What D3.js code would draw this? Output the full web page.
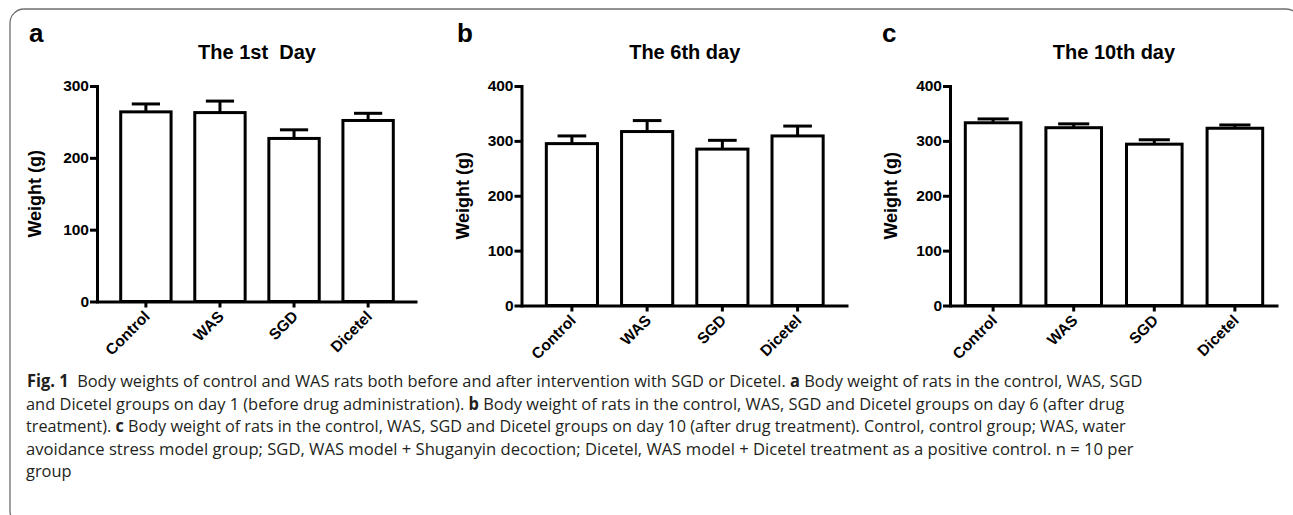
<!DOCTYPE html>
<html>
<head>
<meta charset="utf-8">
<script src="https://cdn.jsdelivr.net/npm/d3@7"></script>
<style>
  html, body { margin: 0; padding: 0; background: #fff; }
  svg { display: block; }
</style>
</head>
<body>
<svg id="chart" width="1293" height="515"></svg>
<script>
// ---- Data ----
const categories = ["Control", "WAS", "SGD", "Dicetel"];
const panelLetters = ["a", "b", "c"];
const panelTitles = ["The 1st  Day", "The 6th day", "The 10th day"];
const yAxisTitle = "Weight (g)";

const day1Means = [264, 263, 227, 252];
const day1Errors = [11, 16, 12, 10];
const day6Means = [295, 317, 285, 309];
const day6Errors = [14, 20, 16, 18];
const day10Means = [333, 324, 294, 323];
const day10Errors = [7, 7, 8, 6];

const day1Ticks = [0, 100, 200, 300];
const day6Ticks = [0, 100, 200, 300, 400];
const day10Ticks = [0, 100, 200, 300, 400];

const captionLines = [
  [["Fig. 1", true], ["  Body weights of control and WAS rats both before and after intervention with SGD or Dicetel. ", false], ["a", true], [" Body weight of rats in the control, WAS, SGD", false]],
  [["and Dicetel groups on day 1 (before drug administration). ", false], ["b", true], [" Body weight of rats in the control, WAS, SGD and Dicetel groups on day 6 (after drug", false]],
  [["treatment). ", false], ["c", true], [" Body weight of rats in the control, WAS, SGD and Dicetel groups on day 10 (after drug treatment). Control, control group; WAS, water", false]],
  [["avoidance stress model group; SGD, WAS model + Shuganyin decoction; Dicetel, WAS model + Dicetel treatment as a positive control. n = 10 per", false]],
  [["group", false]]
];

// ---- Layout ----
const svg = d3.select("#chart");
const FONT = "'Liberation Sans', Arial, sans-serif";

// frame
svg.append("rect")
  .attr("x", 10).attr("y", 9)
  .attr("width", 1290).attr("height", 516)
  .attr("rx", 14).attr("ry", 14)
  .attr("fill", "none").attr("stroke", "#6e6e6e").attr("stroke-width", 1.3);

const panels = [
  { means: day1Means, errs: day1Errors, ticks: day1Ticks, ymax: 300,
    x0: 97, x1: 417, yTop: 86, yBot: 301.5, pin: 0.32, pout: 0.32,
    letterX: 29, ylabX: 35 },
  { means: day6Means, errs: day6Errors, ticks: day6Ticks, ymax: 400,
    x0: 521.5, x1: 848, yTop: 86, yBot: 305.5, pin: 0.32, pout: 0.33,
    letterX: 457, ylabX: 463 },
  { means: day10Means, errs: day10Errors, ticks: day10Ticks, ymax: 400,
    x0: 950, x1: 1278, yTop: 86, yBot: 305.5, pin: 0.31, pout: 0.19,
    letterX: 882, ylabX: 891 }
];

panels.forEach((p, i) => {
  const g = svg.append("g");
  const x = d3.scaleBand().domain(categories).range([p.x0, p.x1])
    .paddingInner(p.pin).paddingOuter(p.pout);
  const y = d3.scaleLinear().domain([0, p.ymax]).range([p.yBot, p.yTop]);

  // panel letter
  g.append("text").attr("x", p.letterX).attr("y", 42)
    .attr("font-family", FONT).attr("font-weight", "bold").attr("font-size", 26)
    .text(panelLetters[i]);

  // title
  g.append("text").attr("x", (p.x0 + p.x1) / 2).attr("y", 59)
    .attr("text-anchor", "middle")
    .attr("font-family", FONT).attr("font-weight", "bold").attr("font-size", 20)
    .attr("xml:space", "preserve")
    .style("white-space", "pre")
    .text(panelTitles[i]);

  // y axis title
  g.append("text")
    .attr("transform", `translate(${p.ylabX},${(p.yTop + p.yBot) / 2}) rotate(-90)`)
    .attr("text-anchor", "middle").attr("dy", "0.35em")
    .attr("font-family", FONT).attr("font-weight", "bold").attr("font-size", 18)
    .text(yAxisTitle);

  // bars
  g.selectAll("rect.bar").data(categories).enter().append("rect")
    .attr("class", "bar")
    .attr("x", d => x(d))
    .attr("width", x.bandwidth())
    .attr("y", (d, j) => y(p.means[j]))
    .attr("height", (d, j) => y(0) - y(p.means[j]))
    .attr("fill", "#fff").attr("stroke", "#000").attr("stroke-width", 3);

  // error bars
  const capW = x.bandwidth() * 0.56;
  categories.forEach((c, j) => {
    const cx = x(c) + x.bandwidth() / 2;
    g.append("line").attr("x1", cx).attr("x2", cx)
      .attr("y1", y(p.means[j])).attr("y2", y(p.means[j] + p.errs[j]))
      .attr("stroke", "#000").attr("stroke-width", 3);
    g.append("line").attr("x1", cx - capW / 2).attr("x2", cx + capW / 2)
      .attr("y1", y(p.means[j] + p.errs[j])).attr("y2", y(p.means[j] + p.errs[j]))
      .attr("stroke", "#000").attr("stroke-width", 3);
  });

  // y axis
  const ya = g.append("g").attr("transform", `translate(${p.x0},0)`)
    .call(d3.axisLeft(y).tickValues(p.ticks).tickSize(7).tickSizeOuter(0).tickPadding(1).tickFormat(d3.format("d")));
  ya.select(".domain").attr("stroke-width", 3).attr("stroke-linecap", "square");
  ya.selectAll(".tick line").attr("stroke-width", 3);
  ya.selectAll(".tick text").attr("font-family", FONT).attr("font-weight", "bold")
    .attr("font-size", 15.5).attr("fill", "#000");

  // x axis
  const xa = g.append("g").attr("transform", `translate(0,${p.yBot})`)
    .call(d3.axisBottom(x).tickSize(6).tickSizeOuter(0));
  xa.select(".domain").attr("stroke-width", 3);
  xa.selectAll(".tick line").attr("stroke-width", 3);
  xa.selectAll(".tick text")
    .attr("font-family", FONT).attr("font-weight", "bold").attr("font-size", 15.5)
    .attr("fill", "#000")
    .attr("text-anchor", "end")
    .attr("x", 0).attr("y", 0).attr("dy", "0.35em")
    .attr("transform", "translate(1,12) rotate(-45)");
});

// caption
const capFont = "'Open Sans', 'Noto Sans', sans-serif";
const capEnds = [1143, 1125, 1126, 1135, null];
const capStarts = [27, 26, 26, 26, 26];
const capBase = [387, 409.5, 432, 454.5, 477];
let refScale = null;
captionLines.forEach((line, i) => {
  const t = svg.append("text")
    .attr("x", 0).attr("y", 0)
    .attr("font-family", capFont).attr("font-size", 17).attr("fill", "#231f20")
    .attr("xml:space", "preserve").style("white-space", "pre");
  line.forEach(([s, b]) => {
    t.append("tspan").attr("font-weight", b ? "bold" : "normal").text(s);
  });
  const natural = t.node().getComputedTextLength();
  let sx;
  if (capEnds[i]) { sx = (capEnds[i] - capStarts[i]) / natural; refScale = refScale || sx; }
  else { sx = refScale || 0.9; }
  t.attr("transform", `translate(${capStarts[i]},${capBase[i]}) scale(${sx},1)`);
});
</script>
</body>
</html>
